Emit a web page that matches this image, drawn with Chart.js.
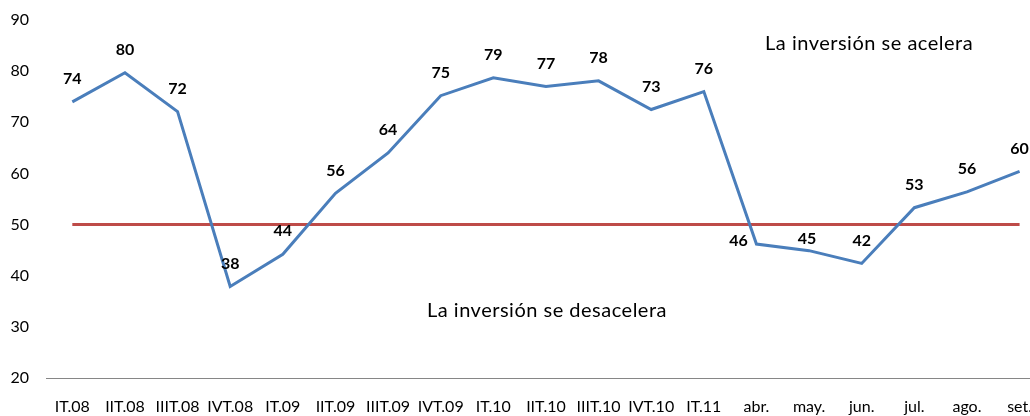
<!DOCTYPE html>
<html><head><meta charset="utf-8">
<script src="https://cdn.jsdelivr.net/npm/chart.js@4/dist/chart.umd.min.js"></script>
<style>html,body{margin:0;padding:0;background:#fff;overflow:hidden;}canvas{display:block;}</style>
</head><body>
<canvas id="c" width="1051" height="416"></canvas>
<script>
const categories = ['IT.08','IIT.08','IIIT.08','IVT.08','IT.09','IIT.09','IIIT.09','IVT.09','IT.10','IIT.10','IIIT.10','IVT.10','IT.11','abr.','may.','jun.','jul.','ago.','set.'];
const inversion = [74.0,79.7,72.1,37.9,44.2,56.1,64.0,75.2,78.7,77.0,78.1,72.5,76.0,46.2,44.9,42.4,53.3,56.4,60.4];
const umbral = [50,50,50,50,50,50,50,50,50,50,50,50,50,50,50,50,50,50,50];
const yTicks = [20,30,40,50,60,70,80,90];
const notes = [
  {text:'La inversión se acelera', x:15.14, y:85.3},
  {text:'La inversión se desacelera', x:9.02, y:33.1}
];
const FONT = 'Lato, "Open Sans", sans-serif';
// label offsets (style): default above point
const labelOffsets = {13:{dx:-18,dy:-3}, 14:{dx:-2,dy:-12}};

const labelPlugin = {
  id:'labels',
  afterDatasetsDraw(chart){
    const ctx = chart.ctx;
    const meta = chart.getDatasetMeta(0);
    ctx.save();
    ctx.font = 'bold 16px ' + FONT;
    ctx.fillStyle = '#000';
    ctx.textAlign = 'center';
    ctx.textBaseline = 'middle';
    meta.data.forEach((pt,i)=>{
      const o = labelOffsets[i] || {dx:0,dy:-23};
      ctx.fillText(Math.round(inversion[i]).toString(), pt.x + o.dx, pt.y + o.dy);
    });
    ctx.font = '20px ' + FONT;
    try { ctx.letterSpacing = '0.5px'; } catch(e) {}
    const xs = chart.scales.x, ys = chart.scales.y;
    notes.forEach(n=>{
      ctx.fillText(n.text, xs.getPixelForValue(n.x), ys.getPixelForValue(n.y));
    });
    try { ctx.letterSpacing = '0px'; } catch(e) {}
    ctx.restore();
  }
};

new Chart(document.getElementById('c'), {
  type:'line',
  data:{
    labels:categories,
    datasets:[
      {data:inversion, borderColor:'#4A7EBB', borderWidth:3, pointRadius:0, tension:0, fill:false},
      {data:umbral, borderColor:'#BE4B48', borderWidth:3, pointRadius:0, tension:0, fill:false}
    ]
  },
  options:{
    responsive:false, animation:false,
    layout:{padding:{top:20,left:0,right:0,bottom:0}},
    plugins:{legend:{display:false}, tooltip:{enabled:false}},
    scales:{
      x:{
        offset:true,
        grid:{display:false, drawTicks:false},
        border:{display:true, color:'#868686', width:1},
        ticks:{font:{family:FONT,size:16}, color:'#000', padding:19, maxRotation:0, autoSkip:false},
        afterFit(s){ s.height = 38; }
      },
      y:{
        min:20, max:90,
        grid:{display:false, drawTicks:false},
        border:{display:false},
        afterBuildTicks(s){ s.ticks = yTicks.map(v=>({value:v})); },
        ticks:{font:{family:FONT,size:16}, color:'#000', padding:17},
        afterFit(s){ s.width = 46; s.paddingTop = 0; s.paddingBottom = 0; }
      }
    }
  },
  plugins:[labelPlugin]
});
</script>
</body></html>
